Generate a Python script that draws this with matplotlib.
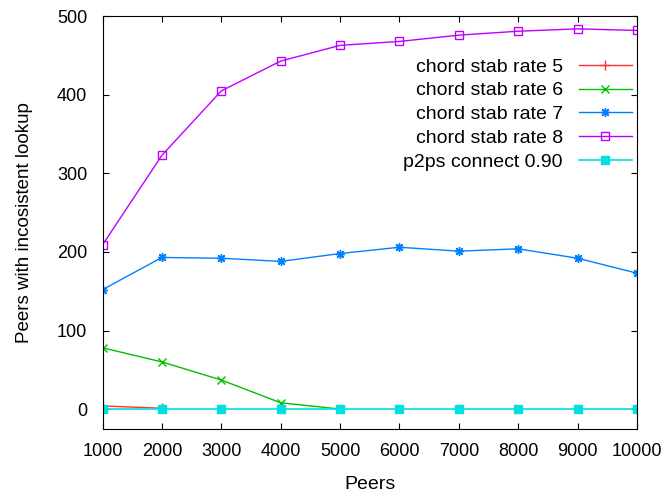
import matplotlib
matplotlib.use("Agg")
import matplotlib.pyplot as plt

plt.rcParams["font.family"] = ["Liberation Sans", "DejaVu Sans"]

# data
peers = [1000, 2000, 3000, 4000, 5000, 6000, 7000, 8000, 9000, 10000]
rate5_x = [1000, 2000]
rate5 = [4, 1]
rate6_x = [1000, 2000, 3000, 4000, 5000]
rate6 = [78, 60, 37, 8, 0]
rate7 = [152, 193, 192, 188, 198, 206, 201, 204, 192, 173]
rate8 = [209, 323, 405, 443, 463, 468, 476, 481, 484, 482]
p2ps = [0, 0, 0, 0, 0, 0, 0, 0, 0, 0]

yticks = [0, 100, 200, 300, 400, 500]

fig = plt.figure(figsize=(6.66, 5.0), dpi=100)
ax = fig.add_axes([102.5 / 666, (500 - 428.7) / 500, 534.5 / 666, 412.4 / 500])

ax.plot(rate5_x, rate5, color="#ff3030", marker="+", ms=7, lw=1, mew=1,
        label="chord stab rate 5")
ax.plot(rate6_x, rate6, color="#00c000", marker="x", ms=6, lw=1, mew=1,
        label="chord stab rate 6")
ax.plot(peers, rate7, color="#0080ff", marker=(8, 2, 0), ms=6.5, lw=1, mew=1,
        label="chord stab rate 7")
ax.plot(peers, rate8, color="#c000ff", marker="s", ms=5.5, lw=1, mew=1,
        mfc="none", label="chord stab rate 8")
ax.plot(peers, p2ps, color="#00e0e0", marker="s", ms=5.5, lw=1.2, mew=1,
        label="p2ps connect 0.90")

ax.set_xlim(1000, 10000)
ax.set_ylim(-25, 500)
ax.set_xticks(peers)
ax.set_yticks(yticks)
ax.tick_params(direction="in", top=True, right=True, labelsize=13,
               length=4)
ax.tick_params(axis="x", pad=10)
ax.tick_params(axis="y", pad=11)
ax.set_xlabel("Peers", fontsize=14, labelpad=12)
ax.set_ylabel("Peers with incosistent lookup", fontsize=13.5, labelpad=17)

ax.legend(loc="upper right", bbox_to_anchor=(0.99, 0.899), frameon=False,
          markerfirst=False, fontsize=14, handlelength=2.73,
          handletextpad=0.82, labelspacing=0.32, borderpad=0,
          borderaxespad=0)

fig.savefig("out.png", dpi=100)
